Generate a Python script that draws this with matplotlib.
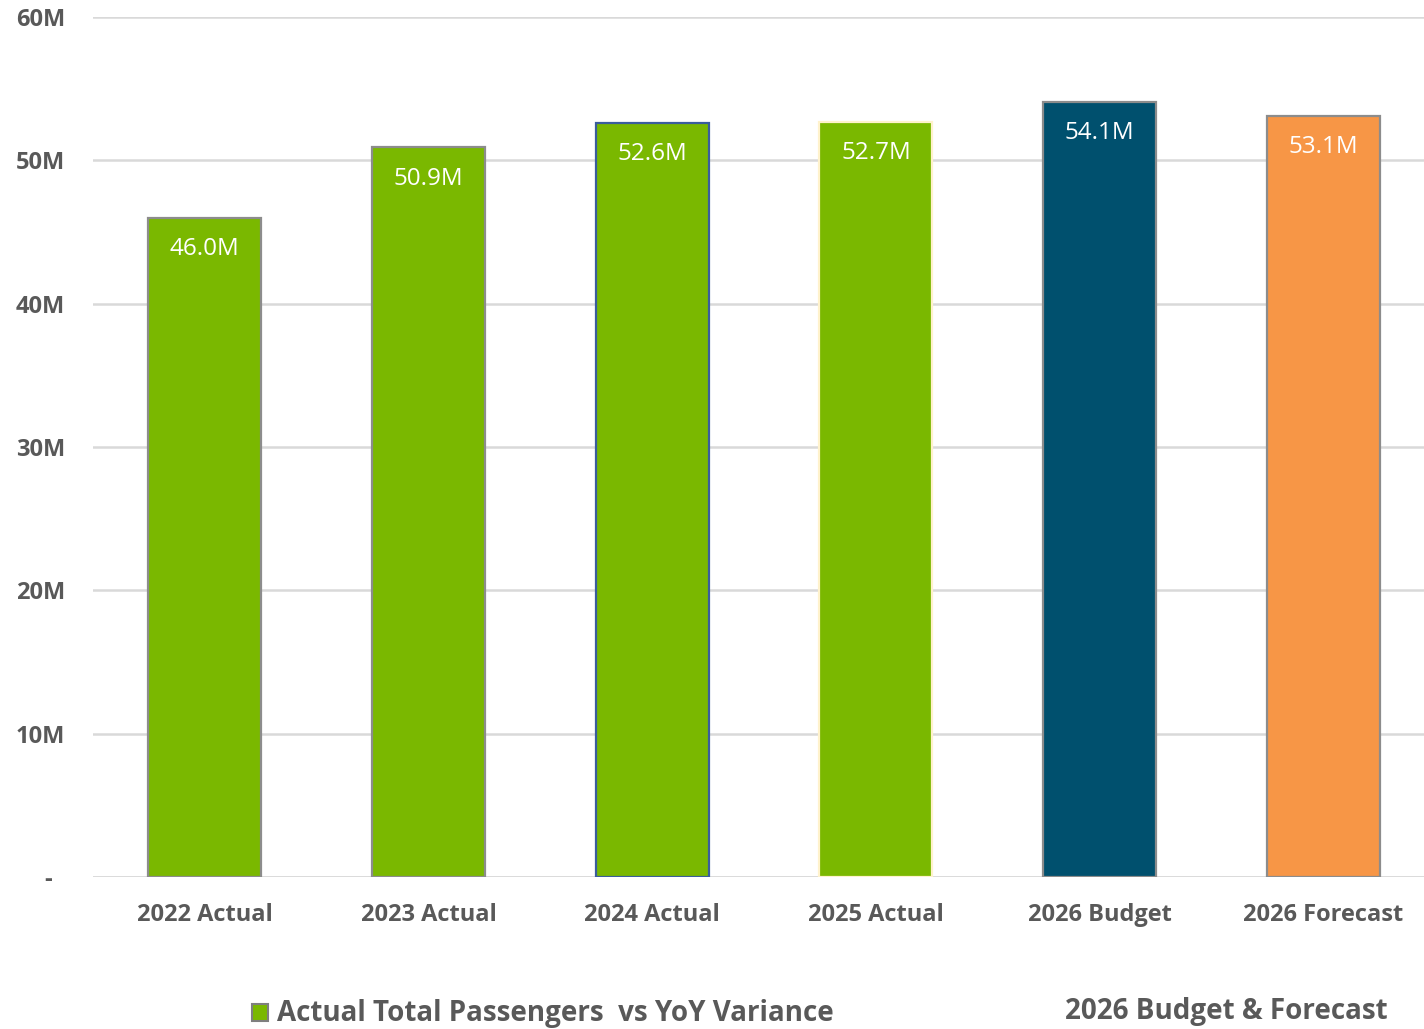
import matplotlib.pyplot as plt
from matplotlib.patches import Rectangle

categories = ['2022 Actual', '2023 Actual', '2024 Actual', '2025 Actual',
              '2026 Budget', '2026 Forecast']
passengers = [46.0, 50.9, 52.6, 52.7, 54.1, 53.1]  # millions
bar_labels = ['46.0M', '50.9M', '52.6M', '52.7M', '54.1M', '53.1M']
yticks = [0, 10, 20, 30, 40, 50, 60]
ytick_labels = ['-  ', '10M', '20M', '30M', '40M', '50M', '60M']

green = '#7AB800'
navy = '#00506E'
orange = '#F79646'
fills = [green, green, green, green, navy, orange]
edges = ['#8c8c8c', '#8c8c8c', '#3a5d9c', '#fff2cc', '#8c8c8c', '#8c8c8c']

plt.rcParams['font.family'] = ['Open Sans', 'DejaVu Sans']
txt = '#595959'

fig = plt.figure(figsize=(14.24, 10.29), dpi=100)
ax = fig.add_axes([0.0653, 0.1477, 0.9347, 0.8358])

ax.bar(range(len(categories)), passengers, width=0.505, color=fills,
       edgecolor=edges, linewidth=1.6, zorder=3)

for i, (v, lab) in enumerate(zip(passengers, bar_labels)):
    ax.text(i, v - 1.35, lab, ha='center', va='top', color='white',
            fontsize=17.5, zorder=4)

ax.set_xlim(-0.5, 5.45)
ax.set_ylim(0, 60)
ax.set_yticks(yticks)
ax.set_yticklabels(ytick_labels)
ax.grid(axis='y', color='#d9d9d9', linewidth=1.8, zorder=0)
ax.set_axisbelow(True)
for s in ax.spines.values():
    s.set_visible(False)
ax.axhline(0, color='#d9d9d9', linewidth=1.8, zorder=2)

ax.set_xticks(range(len(categories)))
ax.set_xticklabels(categories)
ax.tick_params(axis='both', length=0, colors=txt, labelsize=17)
ax.tick_params(axis='x', pad=19)
ax.tick_params(axis='y', pad=20)
for t in ax.get_xticklabels() + ax.get_yticklabels():
    t.set_fontweight('bold')

# legend-like footer
fig.patches.append(Rectangle((252 / 1424, 1 - 1021 / 1029), 16 / 1424, 17 / 1029,
                             transform=fig.transFigure, facecolor=green,
                             edgecolor='#7f7f7f', linewidth=1.5))
fig.text(277 / 1424, 1 - 1013 / 1029, 'Actual Total Passengers  vs YoY Variance',
         ha='left', va='center', fontsize=20, fontweight='bold', color=txt)
fig.text(1388 / 1424, 1 - 1012 / 1029, '2026 Budget & Forecast',
         ha='right', va='center', fontsize=20, fontweight='bold', color=txt)

fig.savefig('out.png', dpi=100)
